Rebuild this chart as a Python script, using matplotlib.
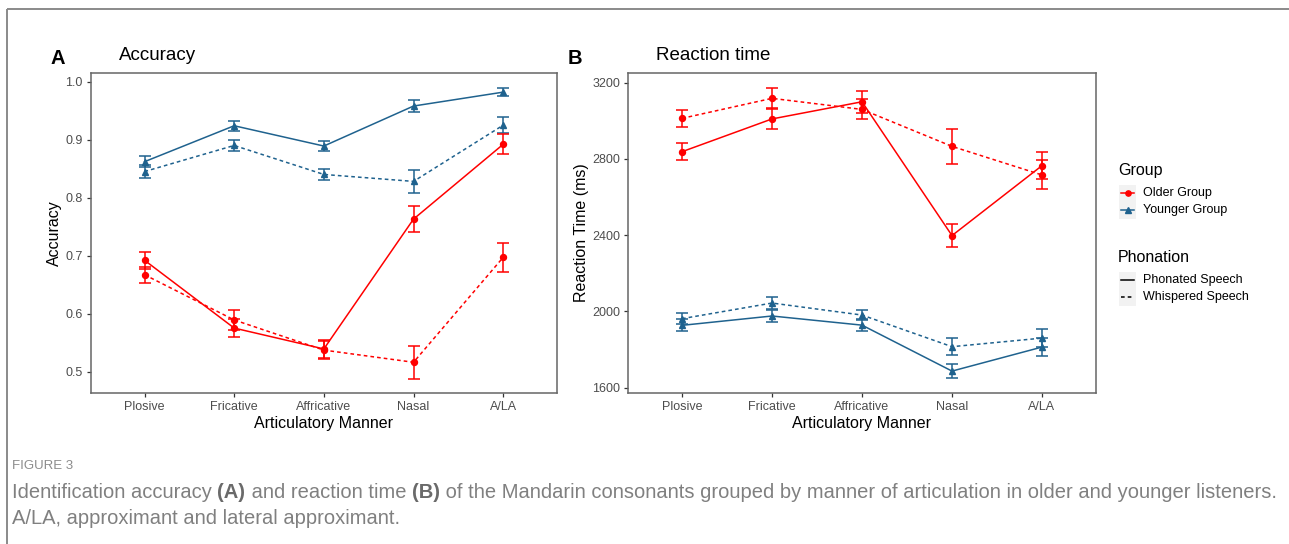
import matplotlib
matplotlib.use("Agg")
import matplotlib.pyplot as plt
from matplotlib.lines import Line2D
from matplotlib.patches import Rectangle
import numpy as np

categories = ["Plosive", "Fricative", "Affricative", "Nasal", "A/LA"]

acc_older_phon = [0.692, 0.575, 0.539, 0.763, 0.892]
acc_older_phon_err = [0.015, 0.016, 0.016, 0.023, 0.017]
acc_older_whis = [0.667, 0.589, 0.537, 0.516, 0.697]
acc_older_whis_err = [0.014, 0.017, 0.016, 0.028, 0.025]
acc_young_phon = [0.862, 0.924, 0.889, 0.958, 0.982]
acc_young_phon_err = [0.010, 0.009, 0.009, 0.010, 0.007]
acc_young_whis = [0.845, 0.890, 0.840, 0.828, 0.925]
acc_young_whis_err = [0.011, 0.010, 0.010, 0.020, 0.014]

rt_older_phon = [2838, 3010, 3100, 2398, 2765]
rt_older_phon_err = [44, 55, 57, 60, 72]
rt_older_whis = [3013, 3118, 3060, 2866, 2716]
rt_older_whis_err = [45, 55, 52, 93, 76]
rt_young_phon = [1927, 1976, 1928, 1687, 1813]
rt_young_phon_err = [32, 34, 31, 37, 45]
rt_young_whis = [1962, 2044, 1981, 1815, 1860]
rt_young_whis_err = [30, 32, 28, 45, 47]

acc_ticks = [0.5, 0.6, 0.7, 0.8, 0.9, 1.0]
rt_ticks = [1600, 2000, 2400, 2800, 3200]

RED = "#FF0000"
BLUE = "#1F628E"
W, H = 1289, 544
plt.rcParams["font.family"] = ["Liberation Sans", "DejaVu Sans"]

fig = plt.figure(figsize=(W / 100, H / 100), dpi=100)


def px_axes(l, t, r, b):
    return fig.add_axes([l / W, 1 - b / H, (r - l) / W, (b - t) / H])


def draw_panel(ax, series, yticks, ylim, ylabel, fmt):
    x = np.arange(len(categories))
    for vals, errs, col, mk, ms, ls in series:
        kw = dict(color=col, lw=1.1, marker=mk, ms=ms, capsize=4.2,
                  elinewidth=1.1, capthick=1.1)
        eb = ax.errorbar(x, vals, yerr=errs, **kw)
        if ls == "dashed":
            eb.lines[0].set_dashes((2.4, 2.0))
    ax.set_xlim(-0.6, len(categories) - 0.4)
    ax.set_ylim(*ylim)
    ax.set_xticks(x)
    ax.set_xticklabels(categories)
    ax.set_yticks(yticks)
    ax.set_yticklabels([fmt(v) for v in yticks])
    ax.tick_params(axis="both", colors="#333333", length=3.2, width=0.9,
                   labelsize=9, labelcolor="#4D4D4D", pad=2.5)
    for s in ax.spines.values():
        s.set_color("#666666")
        s.set_linewidth(1.1)
    ax.set_xlabel("Articulatory Manner", fontsize=11.5, labelpad=2.5)
    ax.set_ylabel(ylabel, fontsize=11.5, labelpad=2.5)


axA = px_axes(90.7, 73, 557, 393)
draw_panel(axA, [
    (acc_young_phon, acc_young_phon_err, BLUE, "^", 5.0, "solid"),
    (acc_young_whis, acc_young_whis_err, BLUE, "^", 5.0, "dashed"),
    (acc_older_phon, acc_older_phon_err, RED, "o", 4.3, "solid"),
    (acc_older_whis, acc_older_whis_err, RED, "o", 4.3, "dashed"),
], acc_ticks, (0.463, 1.015), "Accuracy", lambda v: f"{v:.1f}")

axB = px_axes(628, 73, 1096, 393)
draw_panel(axB, [
    (rt_young_phon, rt_young_phon_err, BLUE, "^", 5.0, "solid"),
    (rt_young_whis, rt_young_whis_err, BLUE, "^", 5.0, "dashed"),
    (rt_older_phon, rt_older_phon_err, RED, "o", 4.3, "solid"),
    (rt_older_whis, rt_older_whis_err, RED, "o", 4.3, "dashed"),
], rt_ticks, (1572, 3251), "Reaction Time (ms)", lambda v: f"{v:d}")

# overlay in pixel coordinates for titles, legend, caption, frame
ov = fig.add_axes([0, 0, 1, 1], zorder=-1)
ov.set_xlim(0, W)
ov.set_ylim(H, 0)
ov.axis("off")

# frame
ov.plot([6.5, W], [9, 9], color="#8A8A8A", lw=1.4, solid_capstyle="butt")
ov.plot([6.5, 6.5], [9, H], color="#8A8A8A", lw=1.4, solid_capstyle="butt")

# panel tags and titles
ov.text(58, 58, "A", fontsize=14.5, fontweight="bold", ha="center", va="center")
ov.text(119, 56, "Accuracy", fontsize=13.5, ha="left", va="center")
ov.text(575, 58, "B", fontsize=14.5, fontweight="bold", ha="center", va="center")
ov.text(656, 56, "Reaction time", fontsize=13.5, ha="left", va="center")

# legend
ov.text(1118, 170, "Group", fontsize=11.5, ha="left", va="center")
for yy, col, mk, ms, lab in [(193, RED, "o", 3.8, "Older Group"),
                             (210, BLUE, "^", 4.4, "Younger Group")]:
    ov.add_patch(Rectangle((1119, yy - 8.5), 17, 17, facecolor="#F2F2F2",
                           edgecolor="none"))
    ov.add_line(Line2D([1121, 1134], [yy, yy], color=col, lw=1.1))
    ov.add_line(Line2D([1127.5], [yy], color=col, marker=mk, ms=ms, lw=0))
    ov.text(1143, yy, lab, fontsize=9, ha="left", va="center")

ov.text(1118, 257, "Phonation", fontsize=11.5, ha="left", va="center")
for yy, ls, lab in [(280, "solid", "Phonated Speech"),
                    (297, "dashed", "Whispered Speech")]:
    ov.add_patch(Rectangle((1119, yy - 8.5), 17, 17, facecolor="#F2F2F2",
                           edgecolor="none"))
    ln = Line2D([1121, 1134], [yy, yy], color="black", lw=1.1)
    if ls == "dashed":
        ln.set_dashes((2.4, 2.0))
    ov.add_line(ln)
    ov.text(1143, yy, lab, fontsize=9, ha="left", va="center")

# caption
capfam = ["Liberation Sans", "DejaVu Sans"]
CAPC = "#808080"
ov.text(12, 466, "FIGURE 3", fontsize=9.5, color="#8C8C8C", ha="left",
        va="center", family=capfam)
parts = [("Identification accuracy ", "normal"), ("(A)", "bold"),
         (" and reaction time ", "normal"), ("(B)", "bold"),
         (" of the Mandarin consonants grouped by manner of articulation in older and younger listeners.", "normal")]
prev = ov.text(12, 492, parts[0][0], fontsize=14.5, color=CAPC, ha="left",
               va="center", family=capfam)
for txt, wt in parts[1:]:
    prev = ov.annotate(txt, xy=(1, 0.5), xycoords=prev, ha="left", va="center",
                       fontsize=14.5, color="#6A6A6A" if wt == "bold" else CAPC,
                       fontweight=wt, family=capfam)
ov.text(12, 518, "A/LA, approximant and lateral approximant.", fontsize=14.5,
        color=CAPC, ha="left", va="center", family=capfam)

fig.savefig("out.png", dpi=100)
